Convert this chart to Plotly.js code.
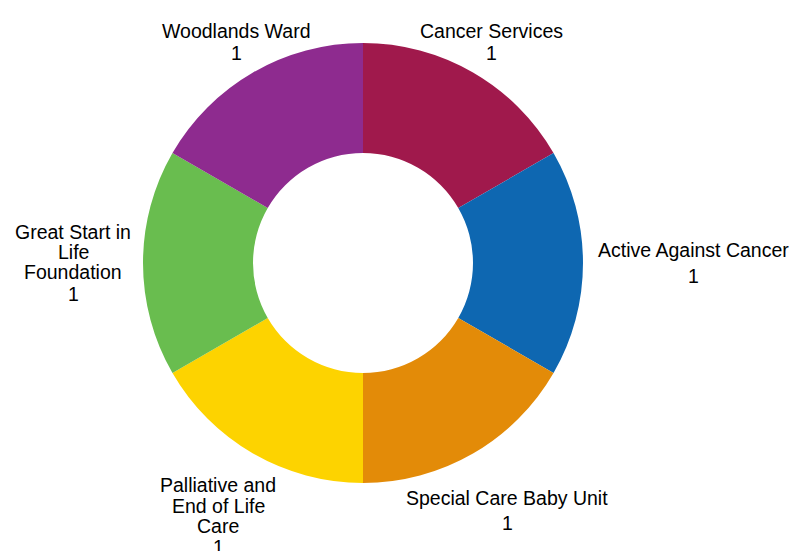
<!DOCTYPE html>
<html><head><meta charset="utf-8">
<script src="https://cdn.plot.ly/plotly-3.0.1.min.js"></script>
<style>html,body{margin:0;padding:0;background:#fff}#chart{width:795px;height:551px}</style>
</head><body><div id="chart"></div>
<script>
const categories = ["Cancer Services","Active Against Cancer","Special Care Baby Unit","Palliative and End of Life Care","Great Start in Life Foundation","Woodlands Ward"];
const displayLabels = ["Cancer Services","Active Against Cancer","Special Care Baby Unit","Palliative and<br>End of Life<br>Care","Great Start in<br>Life<br>Foundation","Woodlands Ward"];
const values = [1,1,1,1,1,1];
const colors = ["#A0194C","#0E67B1","#E38B08","#FDD300","#69BD4F","#8E2B8F"];
// label anchor positions in pixels: [centre x, centre y of each text line..., centre y of value line]
const labelPos = [[491,[31],53],[693,[250],276],[507,[498],523],[218,[485,506,526],547],[73,[232,252,272],294],[236,[31],53]];

const W = 795, H = 551;
const font = {family: "Liberation Sans, Arial, sans-serif", size: 19.5, color: "#000"};
const annotations = [];
categories.forEach((c, i) => {
  const [px, lineYs, vy] = labelPos[i];
  const lines = displayLabels[i].split("<br>");
  lines.forEach((ln, j) => {
    annotations.push({xref:"paper", yref:"paper", x: px/W, y: 1-lineYs[j]/H, text: ln, showarrow:false, xanchor:"center", yanchor:"middle", font: font});
  });
  annotations.push({xref:"paper", yref:"paper", x: px/W, y: 1-vy/H, text: String(values[i]), showarrow:false, xanchor:"center", yanchor:"middle", font: font});
});

const data = [{
  type: "pie",
  labels: categories,
  values: values,
  hole: 0.5,
  sort: false,
  direction: "clockwise",
  rotation: 0,
  textinfo: "none",
  marker: {colors: colors, line: {width: 0}},
  domain: {x: [143/W, 583/W], y: [1-483/H, 1-43/H]},
  hoverinfo: "label+value"
}];
const layout = {
  width: W, height: H,
  margin: {l:0, r:0, t:0, b:0},
  showlegend: false,
  paper_bgcolor: "#fff",
  annotations: annotations
};
Plotly.newPlot("chart", data, layout, {displayModeBar:false, staticPlot:true});
</script></body></html>
